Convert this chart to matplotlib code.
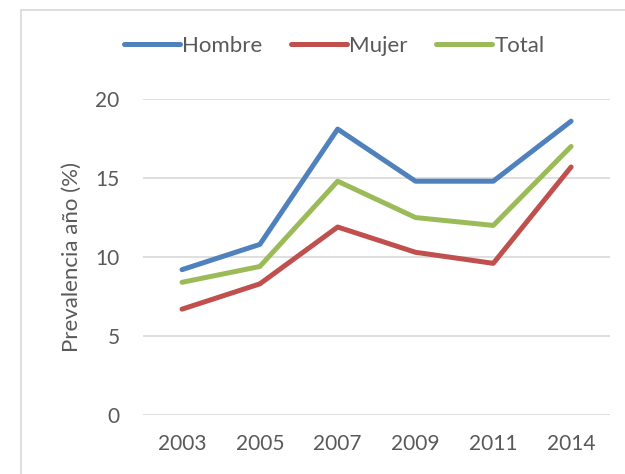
import matplotlib.pyplot as plt
from matplotlib.patches import Rectangle

# datos
anios = ["2003", "2005", "2007", "2009", "2011", "2014"]
hombre = [9.2, 10.8, 18.1, 14.8, 14.8, 18.6]
mujer = [6.7, 8.3, 11.9, 10.3, 9.6, 15.7]
total = [8.4, 9.4, 14.8, 12.5, 12.0, 17.0]

plt.rcParams["font.family"] = ["Lato", "DejaVu Sans"]
gris = "#595959"

fig = plt.figure(figsize=(6.25, 4.74), dpi=100)
ax = fig.add_axes([0.229, 0.1245, 0.747, 0.6665])

x = range(len(anios))
ax.plot(x, hombre, color="#4F81BD", lw=3.6, solid_capstyle="round", label="Hombre")
ax.plot(x, mujer, color="#C0504D", lw=3.6, solid_capstyle="round", label="Mujer")
ax.plot(x, total, color="#9BBB59", lw=3.6, solid_capstyle="round", label="Total")

ax.set_xlim(-0.5, len(anios) - 0.5)
ax.set_ylim(0, 20)
ax.set_yticks([0, 5, 10, 15, 20])
ax.set_xticks(list(x))
ax.set_xticklabels(anios)
ax.yaxis.grid(True, color="#D9D9D9", lw=1.2)
ax.set_axisbelow(True)
for s in ax.spines.values():
    s.set_visible(False)
ax.tick_params(length=0, labelsize=15, colors=gris)
ax.tick_params(axis="y", pad=17)
ax.tick_params(axis="x", pad=14)
ax.set_ylabel("Prevalencia año (%)", fontsize=16, color=gris, labelpad=10)

fig.legend(loc="center", bbox_to_anchor=(0.535, 0.903), ncol=3, frameon=False,
           fontsize=16, handlelength=2.5, handletextpad=0.1, columnspacing=1.3,
           labelcolor=gris)

# marco del gráfico
fig.patches.append(Rectangle((21 / 625, -0.1), 1.2, 1 - 10 / 474 + 0.1,
                             transform=fig.transFigure, fill=False,
                             edgecolor="#D9D9D9", lw=1.2))

fig.savefig("out.png", dpi=100)
